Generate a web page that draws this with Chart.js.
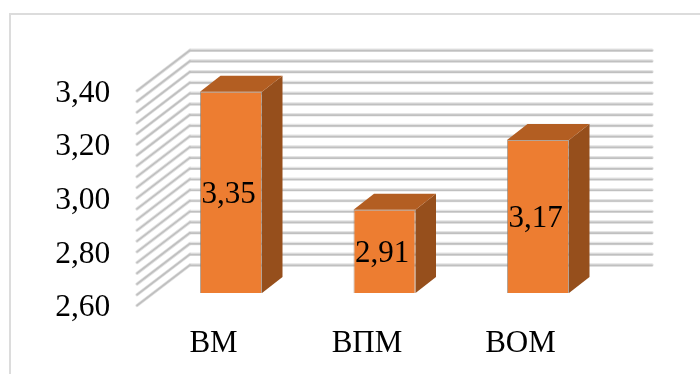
<!DOCTYPE html>
<html>
<head>
<meta charset="utf-8">
<style>
  html, body { margin: 0; padding: 0; background: #fff; }
  canvas { display: block; }
</style>
<script src="https://cdn.jsdelivr.net/npm/chart.js@4/dist/chart.umd.min.js"></script>
</head>
<body>
<canvas id="scoreChart" width="700" height="374"></canvas>
<script>
const categories = ['ВМ', 'ВПМ', 'ВОМ'];
const scores = [3.35, 2.91, 3.17];
const axisMin = 2.6;
const axisMax = 3.4;
const majorStep = 0.2;
const minorStep = 0.04;

const FONT = '"Liberation Serif", "Times New Roman", serif';
const comma = v => v.toFixed(2).replace('.', ',');

// box depth of each bar, in pixels
const BAR_DX = 20.5;
const BAR_DY = -16;

function drawFace(ctx, points, color) {
    ctx.beginPath();
    points.forEach((p, i) => (i ? ctx.lineTo(p[0], p[1]) : ctx.moveTo(p[0], p[1])));
    ctx.closePath();
    ctx.fillStyle = color;
    ctx.fill();
}

function stroke(ctx, x1, y1, x2, y2, color, width) {
    ctx.beginPath();
    ctx.moveTo(x1, y1);
    ctx.lineTo(x2, y2);
    ctx.strokeStyle = color;
    ctx.lineWidth = width;
    ctx.lineCap = 'round';
    ctx.stroke();
}

// 3D walls, side and top faces of the bars, frame and value labels
const boxPlugin = {
    id: 'box3d',
    beforeDatasetsDraw(chart) {
        const { ctx, chartArea, scales } = chart;
        const y = scales.y;
        const backLeft = chartArea.left + 35.75;
        const backRight = chartArea.right + 37.25;
        const frontLeft = chartArea.left - 17.25;
        const count = Math.round((axisMax - axisMin) / minorStep);
        const floor = y.getPixelForValue(axisMin);

        ctx.save();
        // outer frame
        ctx.fillStyle = '#dcdcdc';
        ctx.fillRect(9, 13, 691, 2);
        ctx.fillRect(9, 13, 2, 361);

        for (let i = 0; i <= count; i++) {
            const py = y.getPixelForValue(axisMin + i * minorStep);
            const back = py - 28;
            const front = py + 12.5;
            stroke(ctx, frontLeft, front, backLeft, back, '#e4e4e4', 3.4);
            stroke(ctx, backLeft, back, backRight, back, '#e4e4e4', 3.4);
            stroke(ctx, frontLeft, front, backLeft, back, '#c0c0c0', 1.7);
            stroke(ctx, backLeft, back + 0.4, backRight, back + 0.4, '#c0c0c0', 1.7);
        }

        chart.getDatasetMeta(0).data.forEach(bar => {
            const left = bar.x - bar.width / 2;
            const right = bar.x + bar.width / 2;
            drawFace(ctx, [
                [right, bar.y], [right + BAR_DX, bar.y + BAR_DY],
                [right + BAR_DX, floor + BAR_DY], [right, floor]
            ], '#964F1C');
            drawFace(ctx, [
                [left, bar.y], [left + BAR_DX, bar.y + BAR_DY],
                [right + BAR_DX, bar.y + BAR_DY], [right, bar.y]
            ], '#B35E22');
        });
        ctx.restore();
    },
    afterDatasetsDraw(chart) {
        const { ctx, scales } = chart;
        const floor = scales.y.getPixelForValue(axisMin);
        ctx.save();
        ctx.font = '31px ' + FONT;
        ctx.fillStyle = '#000';
        ctx.textAlign = 'center';
        ctx.textBaseline = 'middle';
        chart.getDatasetMeta(0).data.forEach((bar, i) => {
            ctx.fillText(comma(scores[i]), bar.x - 2.5, (bar.y + floor) / 2 + 2);
        });
        ctx.restore();
    }
};

new Chart(document.getElementById('scoreChart'), {
    type: 'bar',
    data: {
        labels: categories,
        datasets: [{
            data: scores,
            backgroundColor: '#ED7D31',
            borderColor: 'rgba(150, 125, 105, 0.7)',
            borderWidth: 1,
            borderSkipped: false,
            categoryPercentage: 1,
            barPercentage: 0.404
        }]
    },
    options: {
        responsive: false,
        animation: false,
        layout: { padding: { top: 78.3, right: 85.25 } },
        plugins: { legend: { display: false }, tooltip: { enabled: false } },
        scales: {
            x: {
                grid: { display: false, drawTicks: false },
                border: { display: false },
                ticks: {
                    color: '#000',
                    font: { family: FONT, size: 31 },
                    padding: 32,
                    labelOffset: -17.5,
                    maxRotation: 0
                },
                afterFit(scale) { scale.height = 81; }
            },
            y: {
                min: axisMin,
                max: axisMax,
                grid: { display: false, drawTicks: false },
                border: { display: false },
                ticks: {
                    stepSize: majorStep,
                    color: '#000',
                    font: { family: FONT, size: 31.5 },
                    padding: 44,
                    labelOffset: 15,
                    callback: v => comma(v)
                },
                afterFit(scale) { scale.width = 154.25; }
            }
        }
    },
    plugins: [boxPlugin]
});
</script>
</body>
</html>
